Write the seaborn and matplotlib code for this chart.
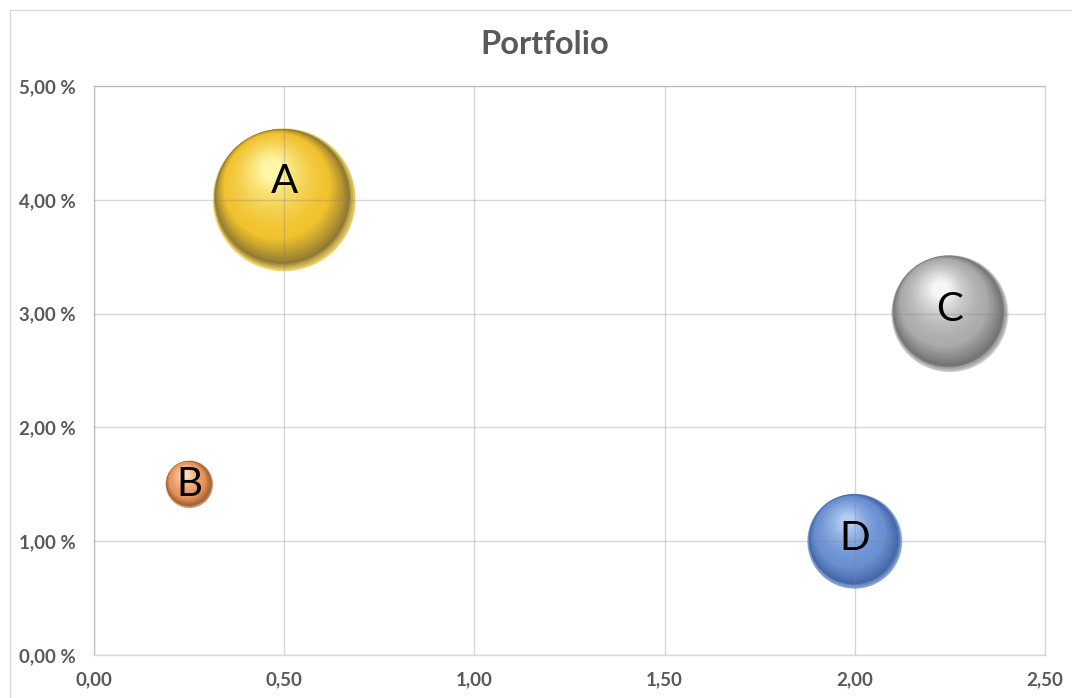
import numpy as np
import pandas as pd
import matplotlib
matplotlib.use("Agg")
import matplotlib.pyplot as plt
import matplotlib.transforms as mtrans
from matplotlib.colors import to_rgb
from matplotlib.ticker import FuncFormatter
import seaborn as sns

# ---- data ----
labels = ['A', 'B', 'C', 'D']
x_vals = [0.50, 0.25, 2.25, 2.00]
y_pct = [4.0, 1.5, 3.0, 1.0]
bubble_vals = [100, 11, 67, 44]

x_ticks = [0.0, 0.5, 1.0, 1.5, 2.0, 2.5]
y_ticks = [0, 1, 2, 3, 4, 5]

# (reflection, edge, base, highlight) per bubble
shades = {
    'A': ('#F6DA6E', '#8C7630', '#F1C22E', '#FFF7A8'),
    'B': ('#F2BA8C', '#9A5C32', '#E8945E', '#FFDDB8'),
    'C': ('#D4D4D4', '#707070', '#ABABAB', '#F6F6F6'),
    'D': ('#94B2E4', '#4264A4', '#6A90D2', '#B2CCF2'),
}
label_nudge = {'A': 13, 'B': 0, 'C': 3, 'D': 2}

df = pd.DataFrame({'label': labels, 'x': x_vals, 'y': y_pct, 'size': bubble_vals})

MAX_DIAM_PX = 143
df['diam_px'] = MAX_DIAM_PX * np.sqrt(df['size'] / max(bubble_vals))
df['s'] = (df['diam_px'] * 0.72) ** 2

sns.set_theme(style='white')
plt.rcParams['font.family'] = ['Lato', 'DejaVu Sans']

fig = plt.figure(figsize=(10.72, 6.98), dpi=100)
ax = fig.add_axes([94 / 1072, 43 / 698, 951 / 1072, 569 / 698])

# full bubble disc (its light colour stays as a reflection at the bottom rim)
sns.scatterplot(data=df, x='x', y='y', hue='label',
                palette={k: v[0] for k, v in shades.items()},
                s=df['s'].values, linewidth=0, legend=False, ax=ax, zorder=1)


def blend(c1, c2, t):
    a, b = np.array(to_rgb(c1)), np.array(to_rgb(c2))
    return tuple(a + (b - a) * t)


def sphere_colour(t, refl, edge, base, hi):
    if t < 0.07:
        return blend(refl, edge, t / 0.07)
    if t < 0.3:
        return blend(edge, base, ((t - 0.07) / 0.23) ** 0.8)
    return blend(base, hi, ((t - 0.3) / 0.7) ** 1.5)


# shading layers drifting toward a highlight on the upper left part of the sphere
# (centre moves fast at first, so the dark rim stays mostly on the right/bottom)
N = 60
for _, row in df.iterrows():
    refl, edge, base, hi = shades[row['label']]
    r = row['diam_px'] / 2
    for i in range(1, N + 1):
        t = i / N
        rad = r * (1 - 0.86 * t)
        gx = 1 - (1 - t) ** 3
        gy = 1 - (1 - t) ** 1.8
        tr = mtrans.offset_copy(ax.transData, fig=fig,
                                x=-0.17 * r * gx, y=0.42 * r * gy, units='dots')
        ax.scatter([row['x']], [row['y']], s=(2 * rad * 0.72) ** 2,
                   color=sphere_colour(t, refl, edge, base, hi),
                   linewidth=0, transform=tr, zorder=1)

for _, row in df.iterrows():
    ax.annotate(row['label'], (row['x'], row['y']),
                xytext=(0, label_nudge[row['label']]), textcoords='offset points',
                ha='center', va='center', fontsize=29, color='black', zorder=4)

ax.set_xlim(0, 2.5)
ax.set_ylim(0, 5)
ax.set_xticks(x_ticks)
ax.set_yticks(y_ticks)
ax.xaxis.set_major_formatter(FuncFormatter(lambda v, p: f"{v:.2f}".replace('.', ',')))
ax.yaxis.set_major_formatter(FuncFormatter(lambda v, p: f"{v:.2f} %".replace('.', ',')))
ax.tick_params(length=0, labelsize=13.5, labelcolor='#595959')
ax.tick_params(axis='y', pad=13)
ax.tick_params(axis='x', pad=12)
for lab in ax.get_xticklabels() + ax.get_yticklabels():
    lab.set_fontweight('bold')
ax.set_xlabel('')
ax.set_ylabel('')

ax.set_axisbelow(False)
ax.grid(True, color='#7f7f7f', alpha=0.3, linewidth=1)
for sp in ax.spines.values():
    sp.set_color('#d9d9d9')
    sp.set_linewidth(1)

# chart area border
fig.add_artist(plt.Rectangle((10 / 1072, -0.1), 1.2, 1 - 10 / 698 + 0.1,
                             transform=fig.transFigure, fill=False,
                             edgecolor='#d9d9d9', linewidth=1))

fig.text(545 / 1072, 1 - 45 / 698, 'Portfolio', ha='center', va='center',
         fontsize=23.5, fontweight='bold', color='#595959')

fig.savefig('out.png', dpi=100)
